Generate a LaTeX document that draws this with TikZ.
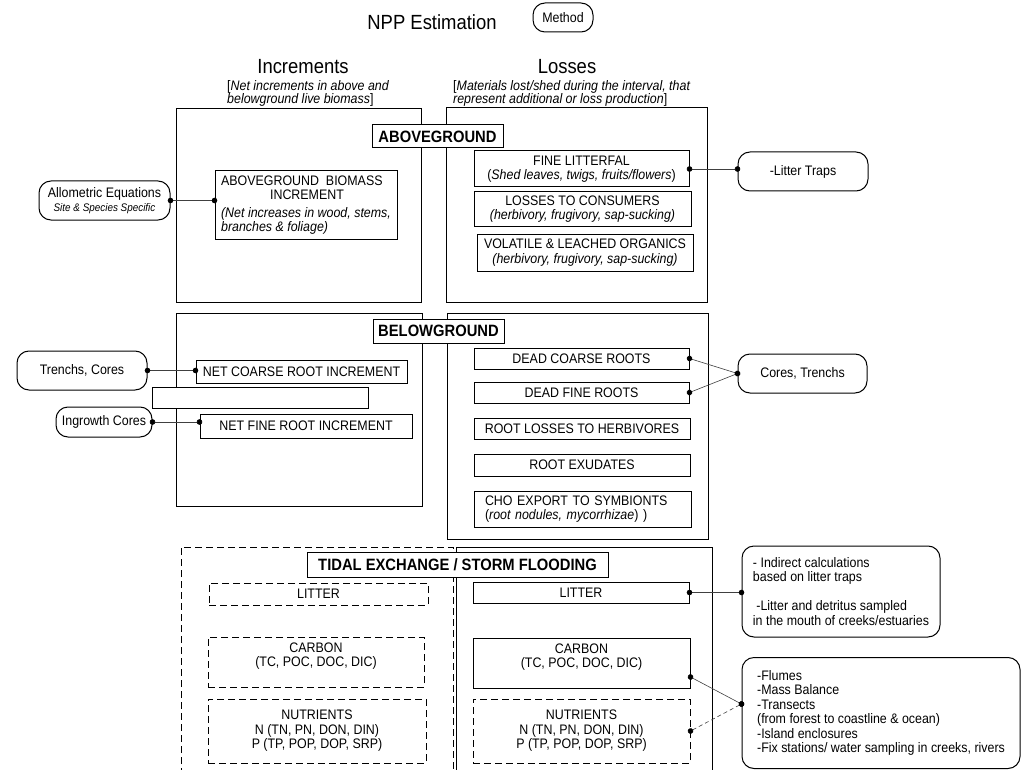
\documentclass[tikz,border=0pt]{standalone}
\usepackage{fontspec}
\setmainfont[FakeStretch=0.9]{Liberation Sans}
\usetikzlibrary{arrows.meta}

\tikzset{
  wh/.style 2 args={minimum width=#1pt, minimum height=#2pt},
  box/.style={draw, line width=1pt, align=center, inner sep=0pt, fill=white},
  dbox/.style={dash pattern=on 7pt off 4pt},
  method/.style={box, rounded corners=12pt},
  header/.style={box, font=\fontsize{16.4}{18}\selectfont\bfseries},
  link/.style={draw=black!75, line width=0.6pt,
    {Circle[length=5.5pt,color=black]}-{Circle[length=5.5pt,color=black]},
    shorten <=-2.75pt, shorten >=-2.75pt},
}

\begin{document}
\begin{tikzpicture}[x=1pt, y=-1pt, font=\fontsize{13.8}{14.5}\selectfont]

  \path[use as bounding box, fill=white] (0,0) rectangle (1022,770);

  % titles
  \begin{scope}[every node/.style={inner sep=0pt}]
    \node (npp)  at (432,22) {\fontsize{20.5}{22}\selectfont NPP Estimation};
    \node[method, wh={60}{29}] (meth) at (563,17.5) {Method};
    \node (incr) at (303,67) {\fontsize{20.5}{22}\selectfont Increments};
    \node (loss) at (567,67) {\fontsize{20.5}{22}\selectfont Losses};
    \node[anchor=west, align=left, font=\fontsize{13.8}{13.5}\selectfont] (incrnote) at (227,93.5)
      {[\textit{Net increments in above and}\\\textit{belowground live biomass}]};
    \node[anchor=west, align=left, font=\fontsize{13.8}{13.5}\selectfont] (lossnote) at (453,93.5)
      {[\textit{Materials lost/shed during the interval, that}\\\textit{represent additional or loss production}]};
  \end{scope}

  % frames
  \begin{scope}[every node/.style={box}]
    \node[wh={245}{193}] (incA)  at (298.5,205.5) {};
    \node[wh={261}{194}] (lossA) at (576.5,205) {};
    \node[wh={246}{193}] (incB)  at (299,409.5) {};
    \node[wh={261}{226}] (lossB) at (577.5,426) {};
  \end{scope}
  \draw[line width=1pt, dbox] (181,775) -- (181,547) -- (453,547) -- (453,775);
  \draw[line width=1pt] (456,775) -- (456,547) -- (712,547) -- (712,775);

  % headers
  \node[header, wh={131}{23}] (labA) at (437.5,136.5) {ABOVEGROUND};
  \node[header, wh={131}{24}] (labB) at (438.5,331) {BELOWGROUND};
  \node[header, wh={301}{25}] (labT) at (457.5,564.5) {TIDAL EXCHANGE / STORM FLOODING};

  % pools
  \begin{scope}[every node/.style={box}]
    \node[wh={182}{68}, align=left] (agbi) at (306,205)
      {ABOVEGROUND\ \ BIOMASS\\\hspace*{3.55em}INCREMENT\\[3pt]
       \textit{(Net increases in wood, stems,}\\\textit{branches \& foliage)}};
    \node[wh={215}{36}] (litf) at (581.5,169) {FINE LITTERFAL\\(\textit{Shed leaves, twigs, fruits/flowers})};
    \node[wh={217}{34}] (cons) at (582.5,209) {LOSSES TO CONSUMERS\\\textit{(herbivory, frugivory, sap-sucking)}};
    \node[wh={216}{37}] (vola) at (585,252.5) {VOLATILE \& LEACHED ORGANICS\\\textit{(herbivory, frugivory, sap-sucking)}};

    \node[wh={211}{23}] (ncri) at (301.5,371.5) {NET COARSE ROOT INCREMENT};
    \node[wh={216}{21}] (gap)  at (260,397.5) {};
    \node[wh={212}{24}] (nfri) at (306,426) {NET FINE ROOT INCREMENT};
    \node[wh={215}{21}] (dcr)  at (581.5,358.5) {DEAD COARSE ROOTS};
    \node[wh={215}{21}] (dfr)  at (581.5,392.5) {DEAD FINE ROOTS};
    \node[wh={216}{21}] (rlh)  at (582,428.5) {ROOT LOSSES TO HERBIVORES};
    \node[wh={216}{22}] (rex)  at (582,465) {ROOT EXUDATES};
    \node[wh={217}{36}, align=left, text width=195pt] (cho) at (582.5,509)
      {CHO EXPORT TO SYMBIONTS\\(\textit{root nodules, mycorrhizae}) )};

    \node[dbox, wh={219}{22}] (litL) at (318.5,594) {LITTER};
    \node[dbox, wh={216}{50}] (carL) at (316,662) {CARBON\\(TC, POC, DOC, DIC)\\\mbox{}};
    \node[dbox, wh={218}{64}] (nutL) at (317,731) {NUTRIENTS\\N (TN, PN, DON, DIN)\\P (TP, POP, DOP, SRP)};
    \node[wh={216}{21}] (litR) at (581,592.5) {LITTER};
    \node[wh={217}{50}] (carR) at (581.5,663) {CARBON\\(TC, POC, DOC, DIC)\\\mbox{}};
    \node[dbox, wh={217}{64}] (nutR) at (581.5,731) {NUTRIENTS\\N (TN, PN, DON, DIN)\\P (TP, POP, DOP, SRP)};
  \end{scope}

  % methods
  \begin{scope}[every node/.style={method}]
    \node[wh={131}{39}] (allo) at (104.5,200.5)
      {Allometric Equations\\[-1pt]{\fontsize{11}{12}\selectfont\itshape Site \& Species Specific}};
    \node[wh={130}{39}] (traps) at (803,171.5) {-Litter Traps};
    \node[wh={130}{39}] (trco)  at (82,370.5) {Trenchs, Cores};
    \node[wh={96}{30}]  (ingr)  at (104,422) {Ingrowth Cores};
    \node[wh={129}{39}] (cotr)  at (802.5,373.5) {Cores, Trenchs};
    \node[wh={198}{91}, align=left, inner xsep=9pt] (indi) at (841,591.5)
      {- Indirect calculations\\based on litter traps\\[14.5pt]
       \hspace*{0.25em}-Litter and detritus sampled\\in the mouth of creeks/estuaries};
    \node[wh={278}{111}, align=left] (flum) at (881,713)
      {-Flumes\\-Mass Balance\\-Transects\\(from forest to coastline \& ocean)\\
       -Island enclosures\\-Fix stations/ water sampling in creeks, rivers};
  \end{scope}

  % connectors
  \begin{scope}[every edge/.style={link}]
    \path (allo.east) edge (allo.east -| agbi.west);
    \path (litf.east) edge (litf.east -| traps.west);
    \path (trco.east) edge (trco.east -| ncri.west);
    \path (ingr.east) edge (ingr.east -| nfri.west);
    \path (dcr.east)  edge (cotr.west);
    \path (dfr.east)  edge (cotr.west);
    \path (litR.east) edge (litR.east -| indi.west);
    \path ([yshift=-14pt]carR.east) edge ([yshift=9pt]flum.west);
    \path (nutR.east) edge[dash pattern=on 4pt off 3pt] ([yshift=9pt]flum.west);
  \end{scope}

\end{tikzpicture}
\end{document}
